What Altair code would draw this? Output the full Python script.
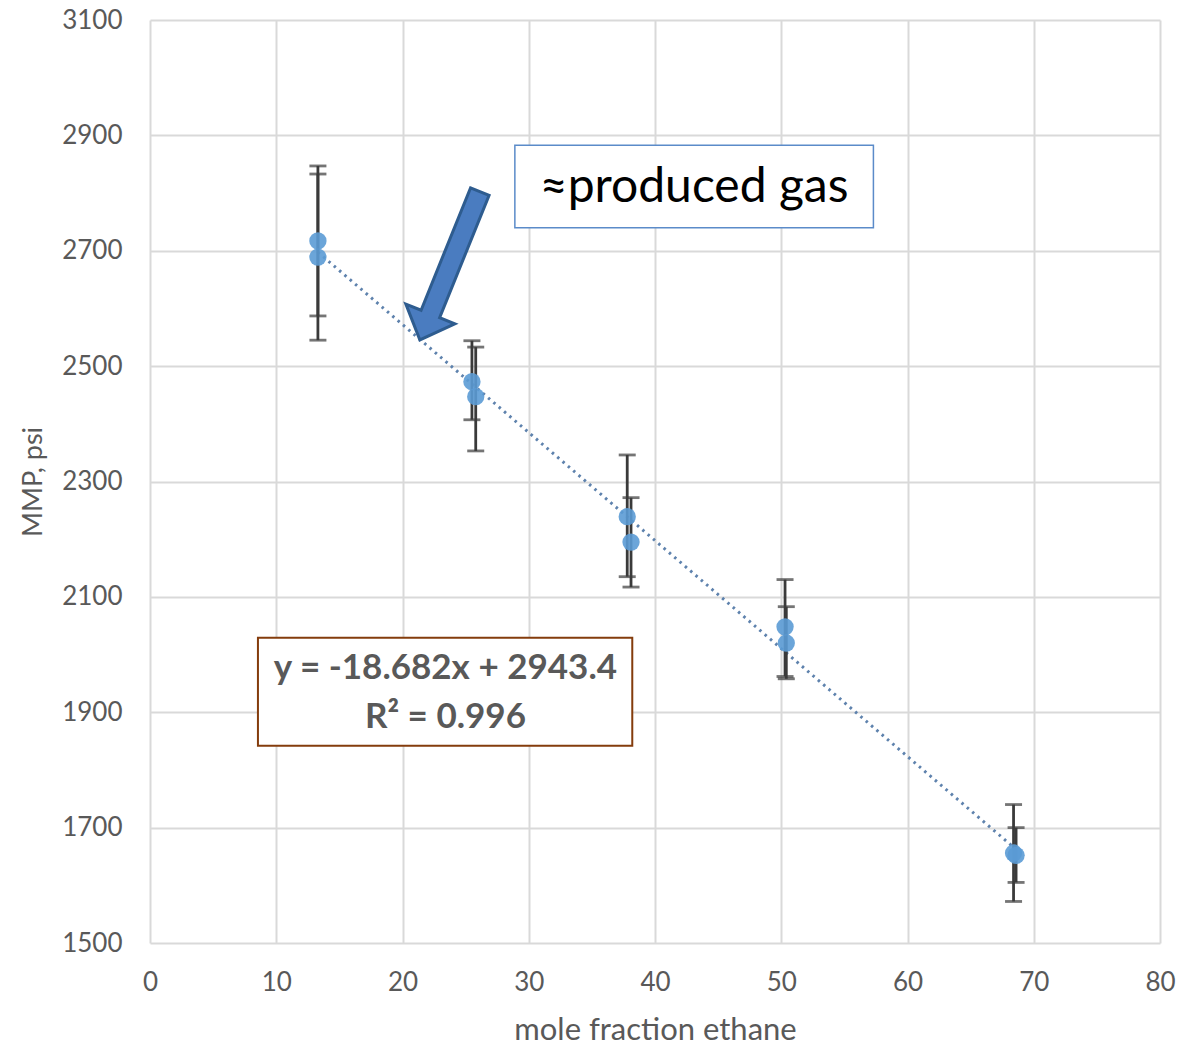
import altair as alt
import pandas as pd

# ---- data ----
ethane = [13.3, 13.3, 25.5, 25.8, 37.8, 38.1, 50.3, 50.4, 68.4, 68.6]
mmp = [2717, 2689, 2473, 2447, 2239, 2195, 2048, 2020, 1656, 1652]
err_hi = [2847, 2833, 2544, 2533, 2346, 2272, 2130, 2083, 1740, 1700]
err_lo = [2587, 2545, 2407, 2353, 2135, 2117, 1962, 1958, 1572, 1605]
x_ticks = [0, 10, 20, 30, 40, 50, 60, 70, 80]
y_ticks = [1500, 1700, 1900, 2100, 2300, 2500, 2700, 2900, 3100]
label_text = ["≈produced gas"]
eq_lines = ["y = -18.682x + 2943.4", "R² = 0.996"]

df = pd.DataFrame({"ethane": ethane, "mmp": mmp, "hi": err_hi, "lo": err_lo})

FONT = "Lato"
GRAY = "#595959"

xs = alt.Scale(domain=[0, 80], nice=False, zero=False)
ys = alt.Scale(domain=[1500, 3100], nice=False, zero=False)

X = alt.X("ethane:Q", scale=xs,
          axis=alt.Axis(values=x_ticks, title="mole fraction ethane", grid=True,
                        labelPadding=26, titlePadding=20, labelFlush=False, format="d"))
Y = alt.Y("mmp:Q", scale=ys,
          axis=alt.Axis(values=y_ticks, title="MMP, psi", grid=True,
                        labelPadding=28, titlePadding=14, labelFlush=False, format="d"))

base = alt.Chart(df)

trend = base.transform_regression("ethane", "mmp").mark_line(
    color="#5E82AD", strokeWidth=3, strokeDash=[2.5, 4.5]
).encode(x=X, y=Y)

err = base.mark_rule(color="#3A3A3A", strokeWidth=2.8).encode(
    x=alt.X("ethane:Q", scale=xs), y=alt.Y("lo:Q", scale=ys), y2="hi:Q")
cap_hi = base.mark_tick(color="#3A3A3A", thickness=2.8, size=17, orient="horizontal").encode(
    x=alt.X("ethane:Q", scale=xs), y=alt.Y("hi:Q", scale=ys))
cap_lo = base.mark_tick(color="#3A3A3A", thickness=2.8, size=17, orient="horizontal").encode(
    x=alt.X("ethane:Q", scale=xs), y=alt.Y("lo:Q", scale=ys))

pts = base.mark_circle(size=300, color="#5B9BD5", opacity=0.9).encode(
    x=alt.X("ethane:Q", scale=xs), y=alt.Y("mmp:Q", scale=ys))

# block arrow (custom symbol path, pointing down, rotated)
arrow_path = ("M -0.125 -1 L 0.125 -1 L 0.125 0.65 L 0.33 0.65 L 0 1 "
              "L -0.33 0.65 L -0.125 0.65 Z")
arrow = alt.Chart(pd.DataFrame({"x": [23.75], "y": [2674]})).mark_point(
    shape=arrow_path, size=25600, filled=True, fill="#4A7CC0", fillOpacity=1,
    stroke="#2E5C8F", strokeWidth=3, angle=22, opacity=1
).encode(x=alt.X("x:Q", scale=xs), y=alt.Y("y:Q", scale=ys))

# "produced gas" box
box1 = alt.Chart(pd.DataFrame({"x": [28.9], "x2": [57.3], "y": [2883], "y2": [2740]})).mark_rect(
    fill="white", stroke="#5B8BC9", strokeWidth=1.5
).encode(x=alt.X("x:Q", scale=xs), x2="x2:Q", y=alt.Y("y:Q", scale=ys), y2="y2:Q")
txt1 = alt.Chart(pd.DataFrame({"x": [43.1], "y": [2809], "t": label_text})).mark_text(
    font=FONT, fontSize=48, color="black", align="center", baseline="middle"
).encode(x=alt.X("x:Q", scale=xs), y=alt.Y("y:Q", scale=ys), text="t:N")

# equation box
box2 = alt.Chart(pd.DataFrame({"x": [8.55], "x2": [38.2], "y": [2029], "y2": [1842]})).mark_rect(
    fill="white", stroke="#843C0C", strokeWidth=2
).encode(x=alt.X("x:Q", scale=xs), x2="x2:Q", y=alt.Y("y:Q", scale=ys), y2="y2:Q")
txt2 = alt.Chart(pd.DataFrame({"x": [23.4, 23.4], "y": [1977, 1892], "t": eq_lines})).mark_text(
    font=FONT, fontSize=35, fontWeight="bold", color=GRAY, align="center", baseline="middle"
).encode(x=alt.X("x:Q", scale=xs), y=alt.Y("y:Q", scale=ys), text="t:N")

chart = alt.layer(
    trend, err, cap_hi, cap_lo, pts, arrow, box1, txt1, box2, txt2
).properties(
    width=1010, height=923,
    padding={"left": 150, "top": 20, "right": 24, "bottom": 105},
    autosize=alt.AutoSizeParams(type="none"),
    background="white",
).configure_axis(
    labelFont=FONT, labelColor=GRAY, titleFont=FONT, titleColor=GRAY,
    labelFontSize=26, titleFontWeight="normal",
    gridColor="#D9D9D9", gridWidth=2, domain=False, ticks=False,
).configure_axisX(titleFontSize=31).configure_axisY(titleFontSize=27).configure_view(stroke=None)

chart.save("out.html", embed_options={"renderer": "svg", "actions": False})
